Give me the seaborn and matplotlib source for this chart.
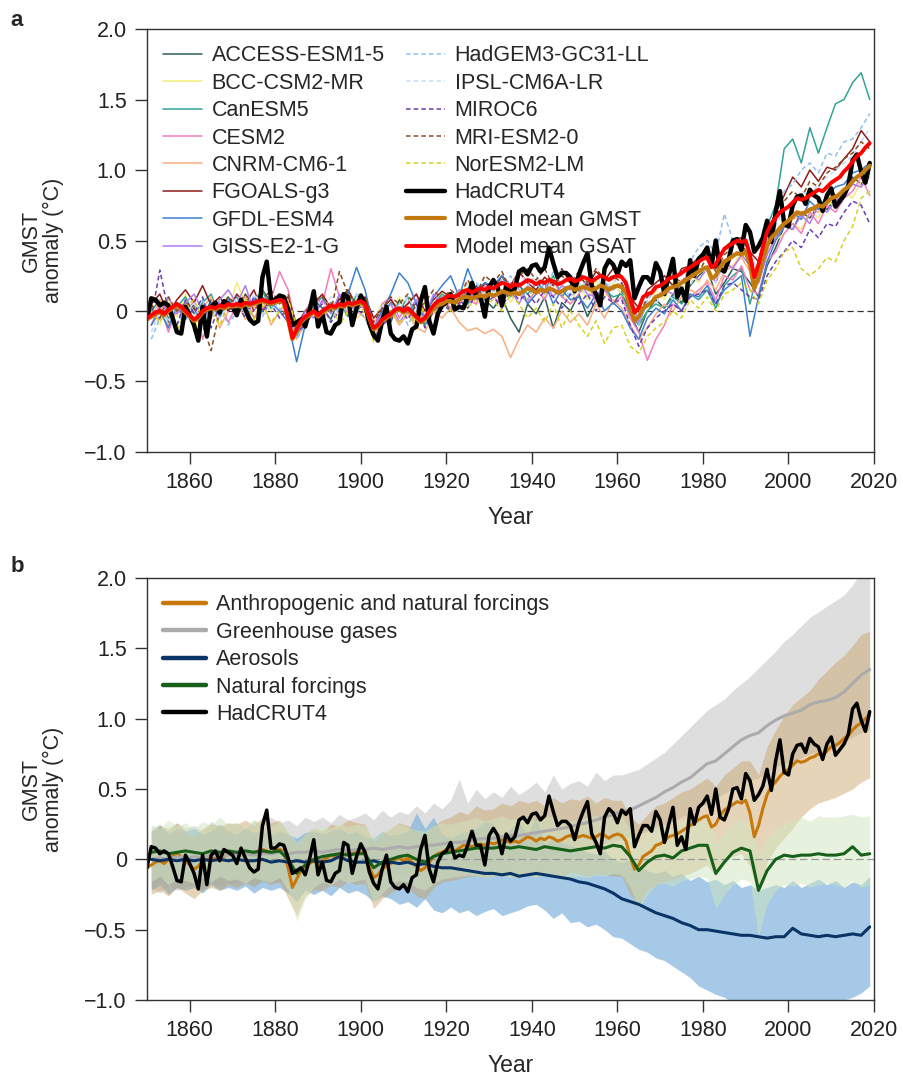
import numpy as np
import pandas as pd
import matplotlib
matplotlib.use('Agg')
import matplotlib.pyplot as plt
import seaborn as sns

sns.set_style('ticks')
plt.rcParams['font.family'] = ['Liberation Sans', 'DejaVu Sans']

# ---------------- data ----------------
years = np.arange(1850, 2020)          # annual
years_2 = np.arange(1851, 2020, 2)     # every second year

xtick_vals = [1860, 1880, 1900, 1920, 1940, 1960, 1980, 2000, 2020]
ytick_vals = [-1.0, -0.5, 0, 0.5, 1.0, 1.5, 2.0]
ytick_labels = ['\u22121.0', '\u22120.5', '0', '0.5', '1.0', '1.5', '2.0']

hadcrut4 = [
    -0.06, 0.09, 0.08, 0.04, 0.06, 0.04, -0.05, -0.15, -0.16, 0.03,
    -0.03, -0.10, -0.21, 0.03, -0.18, 0.03, 0.06, -0.01, 0.07, 0.05,
    0.03, -0.03, 0.08, 0.01, -0.06, -0.09, -0.07, 0.24, 0.35, 0.08,
    0.08, 0.11, 0.10, 0.01, -0.10, -0.08, -0.06, -0.11, 0.00, 0.14,
    -0.11, -0.02, -0.15, -0.16, -0.10, -0.08, 0.12, 0.10, -0.10, 0.02,
    0.11, 0.05, -0.09, -0.17, -0.21, -0.07, 0.03, -0.16, -0.20, -0.21,
    -0.18, -0.23, -0.13, -0.11, 0.07, 0.17, -0.07, -0.16, -0.02, 0.04,
    0.06, 0.12, 0.01, 0.03, 0.02, 0.10, 0.20, 0.10, 0.10, -0.04,
    0.17, 0.22, 0.17, 0.04, 0.18, 0.13, 0.16, 0.28, 0.30, 0.26,
    0.32, 0.33, 0.28, 0.31, 0.45, 0.34, 0.24, 0.27, 0.27, 0.24,
    0.14, 0.26, 0.34, 0.41, 0.18, 0.12, 0.04, 0.30, 0.36, 0.33,
    0.26, 0.35, 0.32, 0.36, 0.09, 0.17, 0.24, 0.24, 0.20, 0.34,
    0.28, 0.12, 0.25, 0.37, 0.10, 0.16, 0.07, 0.36, 0.25, 0.37,
    0.40, 0.45, 0.32, 0.50, 0.30, 0.28, 0.36, 0.50, 0.51, 0.43,
    0.61, 0.56, 0.42, 0.46, 0.52, 0.64, 0.49, 0.70, 0.85, 0.62,
    0.60, 0.75, 0.81, 0.82, 0.76, 0.86, 0.82, 0.80, 0.71, 0.82,
    0.87, 0.74, 0.78, 0.82, 0.89, 1.07, 1.11, 0.99, 0.91, 1.05,
]

gsat_mean = [
    -0.05, -0.03, -0.01, 0.00, -0.02, 0.01, 0.03, 0.05, 0.03, 0.00,
    -0.03, -0.06, -0.04, 0.00, 0.02, 0.03, 0.02, 0.04, 0.03, 0.05,
    0.04, 0.05, 0.04, 0.06, 0.05, 0.06, 0.07, 0.08, 0.07, 0.06,
    0.07, 0.08, 0.07, -0.05, -0.19, -0.13, -0.07, -0.04, -0.02, 0.00,
    -0.03, 0.00, 0.02, 0.04, 0.03, 0.05, 0.04, 0.06, 0.05, 0.06,
    0.07, 0.05, -0.04, -0.12, -0.10, -0.06, -0.04, -0.02, 0.01, 0.02,
    0.00, 0.02, -0.01, -0.04, -0.07, -0.05, 0.00, 0.04, 0.07, 0.08,
    0.10, 0.11, 0.10, 0.12, 0.14, 0.15, 0.13, 0.15, 0.16, 0.15,
    0.17, 0.16, 0.18, 0.20, 0.19, 0.17, 0.19, 0.18, 0.20, 0.22,
    0.21, 0.19, 0.21, 0.20, 0.22, 0.21, 0.19, 0.20, 0.22, 0.23,
    0.21, 0.22, 0.24, 0.23, 0.21, 0.23, 0.25, 0.24, 0.22, 0.24,
    0.25, 0.24, 0.20, 0.09, -0.01, 0.02, 0.10, 0.12, 0.13, 0.17,
    0.18, 0.20, 0.23, 0.24, 0.25, 0.27, 0.29, 0.31, 0.33, 0.35,
    0.37, 0.38, 0.31, 0.33, 0.39, 0.44, 0.46, 0.48, 0.50, 0.49,
    0.50, 0.40, 0.24, 0.33, 0.45, 0.56, 0.62, 0.66, 0.70, 0.72,
    0.74, 0.77, 0.80, 0.79, 0.80, 0.82, 0.84, 0.86, 0.85, 0.88,
    0.91, 0.93, 0.95, 0.99, 1.02, 1.06, 1.10, 1.12, 1.16, 1.19,
]

gmst_mean = [
    -0.06, -0.04, -0.02, -0.01, -0.03, 0.00, 0.02, 0.04, 0.02, -0.01,
    -0.04, -0.07, -0.05, -0.01, 0.01, 0.02, 0.01, 0.03, 0.02, 0.04,
    0.03, 0.04, 0.03, 0.05, 0.04, 0.05, 0.06, 0.07, 0.06, 0.05,
    0.06, 0.07, 0.06, -0.06, -0.20, -0.14, -0.08, -0.05, -0.03, -0.01,
    -0.04, -0.01, 0.01, 0.03, 0.02, 0.04, 0.03, 0.05, 0.04, 0.05,
    0.06, 0.04, -0.05, -0.13, -0.11, -0.07, -0.05, -0.03, 0.00, 0.01,
    -0.01, 0.01, -0.02, -0.05, -0.08, -0.06, -0.02, 0.02, 0.04, 0.05,
    0.07, 0.07, 0.06, 0.08, 0.10, 0.10, 0.09, 0.10, 0.11, 0.10,
    0.12, 0.11, 0.12, 0.14, 0.13, 0.12, 0.13, 0.12, 0.14, 0.16,
    0.15, 0.13, 0.15, 0.14, 0.16, 0.15, 0.13, 0.14, 0.16, 0.17,
    0.15, 0.16, 0.17, 0.16, 0.15, 0.16, 0.18, 0.17, 0.15, 0.17,
    0.18, 0.17, 0.13, 0.02, -0.07, -0.04, 0.02, 0.04, 0.06, 0.10,
    0.11, 0.13, 0.16, 0.17, 0.18, 0.20, 0.22, 0.24, 0.26, 0.28,
    0.30, 0.31, 0.23, 0.25, 0.31, 0.35, 0.37, 0.39, 0.41, 0.40,
    0.42, 0.33, 0.16, 0.24, 0.36, 0.46, 0.52, 0.55, 0.59, 0.62,
    0.64, 0.67, 0.70, 0.69, 0.70, 0.72, 0.73, 0.75, 0.74, 0.77,
    0.80, 0.81, 0.83, 0.86, 0.88, 0.92, 0.95, 0.97, 1.00, 1.03,
]

# individual models, every second year (1851, 1853, ..., 2019)
access_esm1_5 = [
    -0.05, 0.02, -0.08, 0.06, 0.00,   0.04, -0.06, 0.08, 0.02, 0.10,
    0.00, 0.12, 0.04, 0.15, 0.06,     0.10, -0.02, -0.15, -0.05, 0.08,
    0.02, -0.06, 0.10, 0.14, 0.00,    0.06, -0.10, 0.00, -0.08, 0.08,
    -0.02, 0.06, -0.10, 0.04, 0.10,   0.00, 0.12, 0.05, 0.18, 0.08,
    0.02, 0.10, -0.05, -0.15, 0.05,   -0.02, 0.10, -0.12, 0.06, 0.00,
    0.12, -0.04, 0.08, 0.20, 0.05,    0.14, -0.02, -0.15, 0.00, 0.08,
    0.02, 0.12, 0.06, 0.18, 0.25,     0.30, 0.12, 0.20, 0.30, 0.28,
    0.20, 0.10, 0.32, 0.45, 0.60,     0.58, 0.70, 0.66, 0.75, 0.72,
    0.80, 0.84, 0.95, 0.90, 1.00,
]
bcc_csm2_mr = [
    0.04, -0.10, 0.08, -0.04, 0.12,   -0.15, 0.05, -0.02, 0.10, 0.00,
    0.20, 0.06, -0.05, 0.10, 0.00,    0.12, 0.04, -0.10, -0.02, 0.05,
    -0.08, 0.06, 0.02, 0.15, -0.05,   0.00, -0.08, 0.06, -0.02, 0.10,
    0.02, -0.10, 0.00, 0.08, 0.12,    0.05, 0.10, 0.20, 0.04, 0.15,
    0.10, 0.22, 0.06, 0.15, 0.08,     0.20, 0.10, 0.25, 0.12, 0.05,
    0.18, 0.08, 0.22, 0.10, 0.20,     0.12, 0.06, -0.10, 0.00, 0.15,
    0.08, 0.20, 0.14, 0.26, 0.20,     0.32, 0.22, 0.36, 0.30, 0.45,
    0.30, 0.22, 0.42, 0.50, 0.55,     0.62, 0.58, 0.70, 0.66, 0.78,
    0.74, 0.85, 0.80, 0.92, 0.98,
]
canesm5 = [
    0.00, 0.08, -0.05, 0.03, 0.10,    -0.02, 0.06, 0.12, -0.04, 0.05,
    0.10, 0.00, 0.08, 0.14, 0.02,     0.08, 0.00, -0.18, -0.06, 0.04,
    0.10, 0.00, 0.06, -0.04, 0.12,    0.05, -0.15, -0.02, 0.06, 0.00,
    0.10, -0.05, -0.10, 0.05, 0.12,   0.08, 0.15, 0.05, 0.12, 0.20,
    0.14, 0.22, 0.10, 0.18, 0.12,     0.20, 0.15, 0.25, 0.10, 0.18,
    0.14, 0.20, 0.08, 0.15, 0.10,     0.12, -0.02, -0.10, 0.00, 0.05,
    0.02, 0.10, 0.05, 0.12, 0.08,     0.15, 0.02, 0.18, 0.25, 0.30,
    0.05, 0.30, 0.60, 0.75, 1.15,     1.22, 1.05, 1.30, 1.12, 1.30,
    1.47, 1.50, 1.62, 1.69, 1.50,
]
cesm2 = [
    -0.10, 0.05, -0.15, 0.02, -0.05,  0.08, -0.20, 0.00, 0.06, -0.08,
    0.04, 0.10, -0.05, 0.02, 0.08,    0.28, 0.15, -0.12, 0.00, 0.10,
    0.05, 0.30, 0.10, -0.02, 0.08,    0.00, -0.12, 0.05, 0.10, -0.05,
    0.06, 0.12, -0.08, 0.00, 0.10,    0.02, 0.15, 0.08, 0.05, 0.18,
    0.10, 0.05, 0.20, 0.12, 0.06,     0.15, 0.08, 0.22, 0.10, 0.05,
    0.12, 0.20, 0.06, 0.15, 0.05,     0.10, -0.05, -0.15, -0.35, -0.20,
    -0.10, 0.05, 0.00, 0.10, 0.15,    0.20, 0.08, 0.25, 0.22, 0.32,
    0.15, 0.12, 0.35, 0.42, 0.55,     0.62, 0.55, 0.70, 0.62, 0.75,
    0.70, 0.80, 0.85, 0.95, 0.82,
]
cnrm_cm6_1 = [
    -0.05, 0.08, -0.10, 0.00, 0.05,   -0.08, 0.02, 0.10, -0.12, 0.00,
    0.06, -0.06, 0.02, 0.08, -0.10,   0.00, 0.06, -0.20, -0.08, 0.02,
    -0.06, 0.04, -0.02, 0.08, 0.00,   -0.05, -0.18, -0.08, 0.00, -0.10,
    -0.02, -0.12, -0.15, 0.00, -0.05, 0.02, -0.08, -0.14, -0.12, -0.16,
    -0.13, -0.18, -0.33, -0.20, -0.10, -0.15, -0.05, -0.12, 0.00, -0.08,
    -0.02, -0.10, 0.05, -0.05, 0.08,  0.02, -0.10, -0.20, -0.12, -0.02,
    0.05, 0.00, 0.10, 0.15, 0.12,     0.22, 0.15, 0.28, 0.32, 0.38,
    0.28, 0.20, 0.40, 0.52, 0.60,     0.65, 0.68, 0.72, 0.70, 0.80,
    0.78, 0.85, 0.90, 0.88, 0.95,
]
fgoals_g3 = [
    0.05, 0.12, -0.02, 0.08, 0.15,    0.06, 0.18, 0.04, 0.10, 0.00,
    0.12, 0.05, 0.15, 0.00, 0.08,     0.06, 0.10, -0.10, 0.00, 0.05,
    0.12, 0.02, 0.08, 0.15, 0.04,     0.10, -0.05, 0.02, 0.08, 0.00,
    0.05, 0.12, 0.00, 0.08, 0.14,     0.10, 0.05, 0.16, 0.10, 0.20,
    0.15, 0.25, 0.18, 0.28, 0.20,     0.15, 0.24, 0.18, 0.30, 0.20,
    0.25, 0.18, 0.28, 0.22, 0.30,     0.25, 0.10, 0.02, 0.15, 0.20,
    0.25, 0.18, 0.30, 0.32, 0.38,     0.40, 0.30, 0.45, 0.50, 0.52,
    0.42, 0.35, 0.55, 0.70, 0.82,     0.95, 0.88, 1.00, 0.92, 1.02,
    1.00, 1.08, 1.15, 1.28, 1.20,
]
gfdl_esm4 = [
    -0.10, 0.00, -0.12, 0.04, -0.06,  0.02, -0.08, 0.06, -0.04, 0.08,
    -0.02, 0.05, -0.10, 0.00, 0.06,   0.00, -0.08, -0.36, -0.10, 0.00,
    -0.05, 0.06, 0.00, 0.12, 0.31,    0.15, -0.12, 0.00, 0.12, 0.27,
    0.20, 0.05, -0.05, 0.10, 0.18,    0.25, 0.10, 0.30, 0.15, 0.20,
    0.18, 0.25, 0.12, 0.20, 0.05,     0.12, 0.20, 0.05, 0.15, 0.08,
    0.10, 0.02, 0.12, 0.00, 0.06,     0.00, -0.12, -0.20, -0.05, 0.02,
    -0.02, 0.08, 0.00, 0.12, 0.10,    0.18, 0.05, 0.15, 0.20, 0.25,
    -0.18, 0.10, 0.35, 0.50, 0.60,    0.70, 0.65, 0.78, 0.72, 0.82,
    0.88, 0.90, 0.98, 1.00, 1.05,
]
giss_e2_1_g = [
    0.02, -0.06, 0.10, -0.02, 0.06,   0.12, 0.00, -0.05, 0.08, 0.15,
    0.05, 0.18, 0.00, 0.10, 0.04,     0.10, 0.05, -0.15, 0.00, -0.05,
    0.08, -0.02, 0.12, 0.05, 0.00,    0.08, -0.10, -0.02, 0.05, -0.08,
    0.00, 0.08, -0.04, 0.12, 0.05,    0.10, 0.04, 0.15, 0.08, 0.12,
    0.20, 0.10, 0.15, 0.05, 0.18,     0.12, 0.20, 0.10, 0.18, 0.15,
    0.20, 0.12, 0.10, 0.20, 0.15,     0.20, 0.08, -0.08, 0.05, 0.10,
    0.15, 0.12, 0.20, 0.28, 0.22,     0.30, 0.20, 0.35, 0.30, 0.40,
    0.32, 0.20, 0.40, 0.52, 0.62,     0.58, 0.68, 0.62, 0.75, 0.70,
    0.78, 0.82, 0.90, 0.88, 0.98,
]
hadgem3_gc31_ll = [
    -0.20, -0.05, 0.05, -0.10, 0.02,  -0.06, 0.08, -0.02, 0.05, -0.10,
    0.00, 0.06, 0.10, -0.04, 0.08,    0.02, -0.05, -0.20, -0.10, 0.00,
    0.05, -0.08, 0.04, 0.10, 0.02,    -0.05, -0.20, -0.10, 0.00, 0.05,
    -0.10, 0.02, -0.08, 0.00, 0.10,   0.05, 0.15, 0.08, 0.20, 0.12,
    0.18, 0.10, 0.25, 0.15, 0.08,     0.20, 0.12, 0.28, 0.18, 0.10,
    0.15, 0.22, 0.10, 0.18, 0.25,     0.15, 0.05, -0.10, 0.08, 0.15,
    0.20, 0.30, 0.25, 0.35, 0.45,     0.50, 0.40, 0.69, 0.50, 0.45,
    0.35, 0.30, 0.50, 0.70, 0.85,     0.90, 1.00, 1.05, 0.98, 1.12,
    1.10, 1.20, 1.22, 1.30, 1.40,
]
ipsl_cm6a_lr = [
    -0.15, 0.00, -0.08, 0.05, -0.02,  0.06, -0.10, 0.02, -0.05, 0.04,
    0.08, -0.02, 0.12, 0.05, 0.00,    0.10, 0.02, -0.12, -0.04, 0.06,
    0.00, 0.10, -0.05, 0.05, 0.12,    0.02, -0.10, 0.05, -0.05, 0.02,
    0.10, 0.00, -0.08, 0.05, 0.00,    0.12, 0.06, 0.20, 0.10, 0.05,
    0.15, 0.22, 0.12, 0.30, 0.18,     0.25, 0.15, 0.20, 0.30, 0.12,
    0.20, 0.10, 0.25, 0.15, 0.22,     0.18, 0.02, -0.05, 0.10, 0.05,
    0.15, 0.08, 0.22, 0.18, 0.30,     0.28, 0.20, 0.35, 0.40, 0.42,
    0.38, 0.30, 0.48, 0.60, 0.72,     0.78, 0.85, 0.82, 0.90, 0.95,
    1.00, 1.05, 1.10, 1.20, 1.30,
]
miroc6 = [
    -0.05, 0.29, 0.00, -0.10, 0.08,   -0.02, 0.10, -0.12, 0.04, 0.00,
    0.06, -0.05, 0.10, 0.00, 0.05,    -0.05, 0.02, -0.15, -0.10, 0.00,
    0.05, -0.08, 0.00, 0.06, -0.02,   0.00, -0.20, -0.10, -0.05, 0.02,
    -0.06, 0.05, -0.12, 0.00, 0.05,   0.00, 0.08, 0.02, 0.12, 0.05,
    0.10, 0.02, 0.15, 0.08, 0.12,     0.05, 0.15, 0.10, 0.02, 0.12,
    0.05, 0.12, 0.00, 0.10, 0.06,     0.08, -0.10, -0.25, -0.12, -0.05,
    0.00, 0.05, 0.00, 0.10, 0.12,     0.15, 0.05, 0.18, 0.20, 0.15,
    0.10, 0.08, 0.25, 0.35, 0.42,     0.50, 0.45, 0.58, 0.52, 0.62,
    0.60, 0.70, 0.78, 0.75, 0.62,
]
mri_esm2_0 = [
    0.05, -0.05, 0.10, 0.00, 0.06,    0.02, -0.10, -0.28, 0.00, 0.10,
    0.04, 0.12, 0.00, 0.08, 0.15,     0.05, 0.12, -0.15, -0.02, 0.08,
    0.10, 0.00, 0.28, 0.12, 0.05,     0.10, -0.08, 0.02, 0.10, 0.05,
    0.12, 0.00, 0.06, 0.15, 0.08,     0.15, 0.10, 0.22, 0.12, 0.25,
    0.20, 0.28, 0.15, 0.25, 0.30,     0.22, 0.30, 0.18, 0.25, 0.20,
    0.28, 0.20, 0.30, 0.22, 0.25,     0.20, 0.05, -0.05, 0.10, 0.18,
    0.15, 0.25, 0.20, 0.30, 0.28,     0.38, 0.28, 0.40, 0.45, 0.50,
    0.35, 0.30, 0.55, 0.65, 0.78,     0.85, 0.80, 0.92, 0.88, 0.98,
    1.02, 1.08, 1.12, 1.20, 1.15,
]
noresm2_lm = [
    0.00, -0.08, 0.06, -0.15, 0.02,   0.08, -0.05, 0.00, -0.10, 0.05,
    -0.02, 0.10, -0.06, 0.04, -0.08,  0.00, 0.08, -0.10, -0.05, 0.00,
    -0.05, 0.05, -0.10, 0.00, 0.08,   -0.02, -0.22, -0.05, 0.00, -0.08,
    0.00, -0.10, 0.05, -0.02, 0.06,   0.00, 0.08, 0.02, 0.10, 0.04,
    0.08, 0.00, 0.12, 0.05, -0.05,    0.02, -0.08, 0.05, -0.12, 0.00,
    -0.10, -0.18, -0.07, -0.23, -0.12, -0.10, -0.25, -0.30, -0.18, -0.12,
    -0.08, 0.00, -0.05, 0.08, 0.02,   0.10, 0.00, 0.12, 0.15, 0.20,
    0.15, 0.05, 0.22, 0.30, 0.42,     0.45, 0.30, 0.25, 0.30, 0.38,
    0.35, 0.50, 0.60, 0.80, 0.85,
]

model_names = ['ACCESS-ESM1-5', 'BCC-CSM2-MR', 'CanESM5', 'CESM2', 'CNRM-CM6-1',
               'FGOALS-g3', 'GFDL-ESM4', 'GISS-E2-1-G', 'HadGEM3-GC31-LL',
               'IPSL-CM6A-LR', 'MIROC6', 'MRI-ESM2-0', 'NorESM2-LM']
model_values = [access_esm1_5, bcc_csm2_mr, canesm5, cesm2, cnrm_cm6_1, fgoals_g3,
                gfdl_esm4, giss_e2_1_g, hadgem3_gc31_ll, ipsl_cm6a_lr, miroc6,
                mri_esm2_0, noresm2_lm]
model_colors = ['#2e5e57', '#f2ee7a', '#33a396', '#f57cc0', '#f9ae7e', '#8e1a1a',
                '#3c80d0', '#b07cf2', '#8fbff0', '#c6dcf6', '#6a3db0', '#8b4a1c',
                '#d6d020']
model_dashed = [False] * 8 + [True] * 5

# panel b, every second year (1851, 1853, ..., 2019)
ghg_mean = [
    0.00, 0.01, 0.00, 0.02, 0.01,   0.02, 0.01, 0.03, 0.02, 0.03,
    0.03, 0.04, 0.03, 0.04, 0.04,   0.05, 0.04, 0.05, 0.05, 0.06,
    0.05, 0.06, 0.07, 0.06, 0.07,   0.07, 0.08, 0.07, 0.08, 0.09,
    0.08, 0.09, 0.10, 0.10, 0.11,   0.12, 0.12, 0.13, 0.14, 0.15,
    0.15, 0.16, 0.17, 0.17, 0.18,   0.19, 0.20, 0.21, 0.22, 0.23,
    0.25, 0.26, 0.28, 0.30, 0.32,   0.34, 0.35, 0.38, 0.41, 0.44,
    0.48, 0.51, 0.55, 0.58, 0.63,   0.68, 0.70, 0.75, 0.80, 0.85,
    0.88, 0.90, 0.95, 0.99, 1.02,   1.04, 1.06, 1.10, 1.12, 1.13,
    1.15, 1.19, 1.25, 1.31, 1.35,
]
ghg_upper = [
    0.22, 0.25, 0.20, 0.26, 0.22,   0.24, 0.20, 0.27, 0.23, 0.25,
    0.26, 0.22, 0.28, 0.25, 0.30,   0.26, 0.28, 0.24, 0.30, 0.27,
    0.30, 0.26, 0.32, 0.28, 0.30,   0.33, 0.28, 0.35, 0.30, 0.34,
    0.32, 0.38, 0.33, 0.40, 0.36,   0.42, 0.57, 0.40, 0.50, 0.43,
    0.48, 0.44, 0.52, 0.46, 0.50,   0.55, 0.48, 0.60, 0.50, 0.54,
    0.56, 0.52, 0.62, 0.56, 0.60,   0.60, 0.62, 0.64, 0.68, 0.72,
    0.76, 0.82, 0.88, 0.94, 1.00,   1.06, 1.10, 1.14, 1.20, 1.25,
    1.30, 1.36, 1.42, 1.48, 1.55,   1.60, 1.66, 1.72, 1.76, 1.80,
    1.84, 1.88, 1.95, 2.05, 2.10,
]
ghg_lower = [
    -0.20, -0.24, -0.18, -0.22, -0.20,  -0.18, -0.22, -0.16, -0.20, -0.17,
    -0.18, -0.15, -0.20, -0.16, -0.15,  -0.17, -0.14, -0.18, -0.15, -0.14,
    -0.16, -0.12, -0.15, -0.13, -0.12,  -0.14, -0.10, -0.12, -0.10, -0.11,
    -0.09, -0.12, -0.08, -0.10, -0.07,  -0.06, -0.08, -0.04, -0.05, -0.03,
    -0.02, -0.04, 0.00, -0.01, 0.02,    0.01, 0.03, 0.04, 0.05, 0.06,
    0.07, 0.08, 0.10, 0.11, 0.13,       0.15, 0.16, 0.18, 0.20, 0.22,
    0.24, 0.27, 0.30, 0.33, 0.36,       0.40, 0.43, 0.47, 0.50, 0.53,
    0.56, 0.58, 0.62, 0.66, 0.68,       0.70, 0.72, 0.75, 0.77, 0.79,
    0.80, 0.83, 0.87, 0.90, 0.92,
]
aer_mean = [
    0.00, -0.01, 0.00, -0.01, 0.00,     -0.01, 0.00, -0.01, 0.00, -0.01,
    0.00, -0.01, -0.01, 0.00, -0.02,    -0.01, -0.02, -0.01, -0.02, -0.01,
    -0.02, -0.01, 0.02, -0.01, -0.02,   -0.02, -0.01, -0.03, -0.02, -0.03,
    -0.02, -0.04, -0.03, -0.05, -0.06,  -0.06, -0.07, -0.08, -0.09, -0.10,
    -0.10, -0.11, -0.10, -0.12, -0.11,  -0.10, -0.11, -0.12, -0.13, -0.14,
    -0.16, -0.17, -0.19, -0.21, -0.24,  -0.28, -0.30, -0.32, -0.35, -0.38,
    -0.40, -0.42, -0.45, -0.47, -0.50,  -0.50, -0.51, -0.52, -0.53, -0.54,
    -0.54, -0.55, -0.56, -0.55, -0.55,  -0.49, -0.53, -0.54, -0.55, -0.54,
    -0.55, -0.54, -0.53, -0.54, -0.48,
]
aer_upper = [
    0.20, 0.24, 0.18, 0.22, 0.20,     0.22, 0.18, 0.20, 0.25, 0.20,
    0.18, 0.22, 0.19, 0.20, 0.17,     0.20, 0.18, 0.15, 0.19, 0.20,
    0.18, 0.20, 0.22, 0.18, 0.20,     0.16, 0.15, 0.20, 0.17, 0.18,
    0.20, 0.33, 0.22, 0.30, 0.18,     0.15, 0.18, 0.20, 0.22, 0.27,
    0.25, 0.15, 0.22, 0.26, 0.18,     0.30, 0.10, 0.15, 0.12, 0.10,
    0.08, 0.05, 0.04, 0.06, 0.00,     -0.02, 0.00, -0.05, -0.08, -0.10,
    -0.08, -0.12, -0.10, -0.15, -0.12, -0.16, -0.14, -0.18, -0.15, -0.20,
    -0.18, -0.22, -0.20, -0.18, -0.20, -0.15, -0.20, -0.17, -0.14, -0.18,
    -0.15, -0.20, -0.16, -0.18, -0.12,
]
aer_lower = [
    -0.22, -0.18, -0.25, -0.20, -0.22,  -0.20, -0.24, -0.18, -0.22, -0.20,
    -0.22, -0.19, -0.24, -0.20, -0.22,  -0.20, -0.24, -0.30, -0.22, -0.25,
    -0.22, -0.26, -0.20, -0.24, -0.22,  -0.25, -0.30, -0.26, -0.28, -0.32,
    -0.30, -0.34, -0.28, -0.36, -0.38,  -0.34, -0.38, -0.36, -0.40, -0.37,
    -0.35, -0.40, -0.38, -0.36, -0.33,  -0.32, -0.36, -0.42, -0.38, -0.45,
    -0.44, -0.48, -0.46, -0.50, -0.55,  -0.56, -0.60, -0.64, -0.66, -0.70,
    -0.72, -0.76, -0.80, -0.84, -0.90,  -0.93, -0.96, -0.98, -1.02, -1.05,
    -1.05, -1.08, -1.10, -1.08, -1.10,  -1.06, -1.10, -1.08, -1.05, -1.08,
    -1.04, -1.00, -0.98, -0.95, -0.90,
]
nat_mean = [
    0.05, 0.06, 0.04, 0.05, 0.06,     0.05, 0.04, 0.06, 0.05, 0.06,
    0.05, 0.06, 0.05, 0.06, 0.05,     0.06, 0.00, -0.10, -0.04, 0.00,
    0.02, 0.03, 0.04, 0.03, 0.04,     0.04, -0.06, -0.02, 0.00, 0.02,
    0.03, 0.00, -0.02, 0.02, 0.04,    0.05, 0.06, 0.07, 0.08, 0.08,
    0.08, 0.09, 0.08, 0.09, 0.08,     0.07, 0.09, 0.08, 0.07, 0.06,
    0.07, 0.08, 0.09, 0.08, 0.10,     0.09, 0.02, -0.08, -0.02, 0.02,
    0.03, 0.01, 0.06, 0.08, 0.10,     0.10, -0.10, -0.02, 0.05, 0.08,
    0.06, -0.22, -0.08, 0.00, 0.03,   0.02, 0.03, 0.03, 0.04, 0.03,
    0.03, 0.04, 0.09, 0.03, 0.04,
]
nat_upper = [
    0.25, 0.22, 0.28, 0.24, 0.26,     0.22, 0.27, 0.24, 0.30, 0.25,
    0.26, 0.23, 0.28, 0.25, 0.24,     0.27, 0.22, 0.12, 0.18, 0.22,
    0.24, 0.22, 0.26, 0.23, 0.25,     0.24, 0.15, 0.20, 0.22, 0.25,
    0.23, 0.21, 0.20, 0.24, 0.26,     0.25, 0.27, 0.28, 0.30, 0.27,
    0.29, 0.31, 0.28, 0.30, 0.29,     0.28, 0.31, 0.30, 0.28, 0.27,
    0.28, 0.30, 0.31, 0.29, 0.32,     0.30, 0.22, 0.12, 0.20, 0.24,
    0.25, 0.22, 0.27, 0.29, 0.30,     0.30, 0.12, 0.20, 0.26, 0.29,
    0.26, 0.05, 0.15, 0.22, 0.26,     0.28, 0.30, 0.27, 0.31, 0.30,
    0.30, 0.31, 0.32, 0.30, 0.31,
]
nat_lower = [
    -0.16, -0.12, -0.18, -0.14, -0.15,  -0.17, -0.13, -0.16, -0.12, -0.15,
    -0.14, -0.17, -0.13, -0.15, -0.16,  -0.13, -0.22, -0.44, -0.28, -0.20,
    -0.16, -0.18, -0.14, -0.17, -0.15,  -0.14, -0.32, -0.24, -0.18, -0.15,
    -0.16, -0.20, -0.22, -0.17, -0.14,  -0.13, -0.12, -0.11, -0.12, -0.13,
    -0.12, -0.11, -0.13, -0.12, -0.11,  -0.13, -0.11, -0.12, -0.14, -0.13,
    -0.12, -0.13, -0.11, -0.12, -0.10,  -0.11, -0.20, -0.35, -0.25, -0.18,
    -0.17, -0.19, -0.15, -0.14, -0.12,  -0.13, -0.35, -0.25, -0.18, -0.14,
    -0.16, -0.55, -0.32, -0.22, -0.18,  -0.19, -0.17, -0.20, -0.18, -0.17,
    -0.18, -0.20, -0.15, -0.20, -0.18,
]
all_upper = [
    0.20, 0.24, 0.22, 0.26, 0.20,     0.16, 0.22, 0.25, 0.24, 0.26,
    0.25, 0.28, 0.24, 0.30, 0.26,     0.28, 0.18, 0.10, 0.18, 0.22,
    0.20, 0.25, 0.24, 0.28, 0.26,     0.25, 0.12, 0.18, 0.22, 0.26,
    0.24, 0.20, 0.18, 0.24, 0.28,     0.30, 0.34, 0.32, 0.38, 0.35,
    0.36, 0.40, 0.38, 0.42, 0.40,     0.42, 0.38, 0.44, 0.40, 0.43,
    0.42, 0.45, 0.40, 0.44, 0.42,     0.42, 0.30, 0.25, 0.32, 0.38,
    0.40, 0.44, 0.48, 0.50, 0.54,     0.58, 0.52, 0.60, 0.65, 0.70,
    0.70, 0.60, 0.80, 0.92, 1.02,     1.10, 1.15, 1.20, 1.28, 1.34,
    1.40, 1.45, 1.52, 1.60, 1.62,
]
all_lower = [
    -0.25, -0.22, -0.26, -0.20, -0.24,  -0.28, -0.22, -0.20, -0.22, -0.18,
    -0.20, -0.17, -0.19, -0.15, -0.18,  -0.16, -0.28, -0.40, -0.26, -0.22,
    -0.22, -0.18, -0.20, -0.16, -0.18,  -0.17, -0.35, -0.28, -0.24, -0.20,
    -0.20, -0.26, -0.28, -0.20, -0.16,  -0.15, -0.14, -0.12, -0.12, -0.13,
    -0.12, -0.10, -0.12, -0.13, -0.10,  -0.12, -0.11, -0.10, -0.12, -0.09,
    -0.10, -0.12, -0.10, -0.11, -0.12,  -0.12, -0.25, -0.32, -0.22, -0.18,
    -0.16, -0.14, -0.12, -0.10, -0.07,  -0.04, -0.12, -0.02, 0.02, 0.04,
    -0.05, -0.25, -0.02, 0.08, 0.15,    0.22, 0.30, 0.36, 0.40, 0.42,
    0.44, 0.47, 0.50, 0.55, 0.58,
]

# ---------------- figure ----------------
FS = 15.5
fig = plt.figure(figsize=(9.04, 10.79), dpi=100)
ax_a = fig.add_axes([0.1626, 0.5811, 0.8042, 0.3920])
ax_b = fig.add_axes([0.1626, 0.0732, 0.8042, 0.3911])


def style_axes(ax):
    ax.set_xlim(1850, 2020)
    ax.set_ylim(-1.0, 2.0)
    ax.set_xticks(xtick_vals)
    ax.set_xticklabels([str(v) for v in xtick_vals])
    ax.set_yticks(ytick_vals)
    ax.set_yticklabels(ytick_labels)
    ax.tick_params(direction='out', length=8.5, width=1, labelsize=FS,
                   color='#333333', labelcolor='#222222', pad=6)
    for s in ax.spines.values():
        s.set_linewidth(1)
        s.set_color('#333333')
    ax.set_xlabel('Year', fontsize=16.5, labelpad=9)
    ax.set_ylabel('GMST\nanomaly (\u00b0C)', fontsize=FS, linespacing=1.05, labelpad=15)


# panel a
ax_a.axhline(0, color='#333333', lw=0.9, ls=(0, (5, 3)), zorder=1)
for name, vals, col, dashed in zip(model_names, model_values, model_colors, model_dashed):
    ls = (0, (3, 2)) if dashed else '-'
    sns.lineplot(x=years_2, y=vals, ax=ax_a, color=col, linewidth=1.1,
                 linestyle=ls, label=name)
sns.lineplot(x=years, y=hadcrut4, ax=ax_a, color='black', linewidth=3.2, label='HadCRUT4')
sns.lineplot(x=years, y=gmst_mean, ax=ax_a, color='#c27a0e', linewidth=3.0,
             label='Model mean GMST')
sns.lineplot(x=years, y=gsat_mean, ax=ax_a, color='#ff0000', linewidth=2.8,
             label='Model mean GSAT')
style_axes(ax_a)
ax_a.legend(loc='upper left', ncol=2, frameon=False, fontsize=FS,
            handlelength=1.8, labelspacing=0.3, columnspacing=1.0,
            handletextpad=0.45, borderaxespad=0.45, borderpad=0.3)

# panel b
ax_b.fill_between(years_2, ghg_lower, ghg_upper, color='#d4d4d4', alpha=0.75, lw=0)
ax_b.fill_between(years_2, aer_lower, aer_upper, color='#7fb3dc', alpha=0.7, lw=0)
ax_b.fill_between(years_2, all_lower, all_upper, color='#c9a063', alpha=0.45, lw=0)
ax_b.fill_between(years_2, nat_lower, nat_upper, color='#cfe5bf', alpha=0.5, lw=0)
ax_b.axhline(0, color='#999999', lw=0.9, ls=(0, (6, 3)), zorder=2)
sns.lineplot(x=years, y=gmst_mean, ax=ax_b, color='#c8780a', linewidth=2.2,
             label='Anthropogenic and natural forcings')
sns.lineplot(x=years_2, y=ghg_mean, ax=ax_b, color='#ababab', linewidth=2.2,
             label='Greenhouse gases')
sns.lineplot(x=years_2, y=aer_mean, ax=ax_b, color='#0b3466', linewidth=2.2,
             label='Aerosols')
sns.lineplot(x=years_2, y=nat_mean, ax=ax_b, color='#17601a', linewidth=2.2,
             label='Natural forcings')
sns.lineplot(x=years, y=hadcrut4, ax=ax_b, color='black', linewidth=2.5,
             label='HadCRUT4')
style_axes(ax_b)
leg_b = ax_b.legend(loc='upper left', frameon=False, fontsize=FS,
                    handlelength=2.0, labelspacing=0.3, handletextpad=0.45,
                    borderaxespad=0.45, borderpad=0.3)
for h in leg_b.get_lines():
    h.set_linewidth(3.2)

fig.text(0.012, 0.991, 'a', fontsize=16, fontweight='bold', va='top')
fig.text(0.012, 0.485, 'b', fontsize=16, fontweight='bold', va='top')

fig.savefig('out.png', dpi=100)
